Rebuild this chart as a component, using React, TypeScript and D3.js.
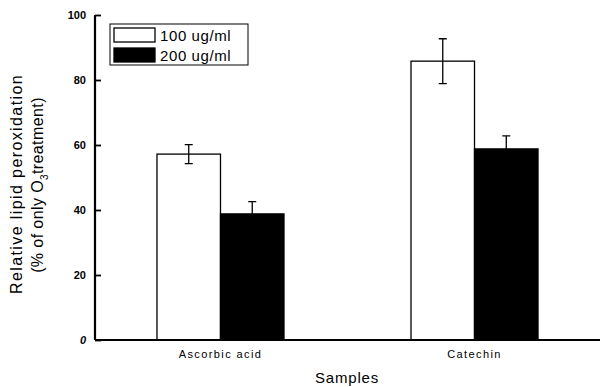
import { useEffect, useRef } from "react";
import * as d3 from "d3";

const samples = ["Ascorbic acid", "Catechin"];
const doses = ["100 ug/ml", "200 ug/ml"];
const values100 = [57.2, 85.8];
const errors100 = [2.9, 6.9];
const values200 = [38.8, 58.8];
const errors200 = [3.8, 4.0];
const yTicks = [0, 20, 40, 60, 80, 100];

const App = () => {
  const ref = useRef<SVGSVGElement | null>(null);

  useEffect(() => {
    const svg = d3.select(ref.current);
    svg.selectAll("*").remove();
    const W = 601, H = 387;
    const margin = { top: 15, right: 1, bottom: 47, left: 95 };
    const width = W - margin.left - margin.right;
    const height = H - margin.top - margin.bottom;
    const font = "Liberation Sans, Arial, sans-serif";

    const g = svg.append("g").attr("transform", `translate(${margin.left},${margin.top})`);

    const x0 = d3.scaleBand().domain(samples).range([0, width]).paddingInner(0.5).paddingOuter(0.244);
    const x1 = d3.scaleBand().domain(doses).range([0, x0.bandwidth()]);
    const y = d3.scaleLinear().domain([0, 100]).range([height, 0]);

    const rows = samples.map((s, i) => ({
      sample: s,
      bars: [
        { dose: doses[0], v: values100[i], e: errors100[i] },
        { dose: doses[1], v: values200[i], e: errors200[i] },
      ],
    }));

    const grp = g.selectAll(".grp").data(rows).enter().append("g")
      .attr("transform", d => `translate(${x0(d.sample)},0)`);

    // error bars first, black bars hide the lower half
    grp.selectAll(".err").data(d => d.bars).enter().append("path")
      .attr("d", d => {
        const cx = (x1(d.dose) as number) + x1.bandwidth() / 2;
        const t = y(d.v + d.e), b = y(d.v - d.e);
        return `M${cx - 4},${t}H${cx + 4}M${cx},${t}V${b}M${cx - 4},${b}H${cx + 4}`;
      })
      .attr("stroke", "#000").attr("stroke-width", 1.3).attr("fill", "none");

    grp.selectAll("rect").data(d => d.bars).enter().append("rect")
      .attr("x", d => x1(d.dose) as number)
      .attr("y", d => y(d.v))
      .attr("width", x1.bandwidth())
      .attr("height", d => height - y(d.v))
      .attr("fill", d => (d.dose === doses[0] ? "none" : "#000"))
      .attr("stroke", "#000").attr("stroke-width", 1.3);

    // y axis
    const ya = g.append("g").call(
      d3.axisLeft(y).tickValues(yTicks).tickSize(-6).tickPadding(9)
    );
    ya.select(".domain").attr("stroke-width", 2.2).attr("d", `M0,0V${height}`);
    ya.selectAll(".tick line").attr("stroke-width", 1.8);
    ya.selectAll(".tick text")
      .attr("font-family", font).attr("font-size", 11).attr("font-weight", "bold").attr("fill", "#000")
      .attr("font-style", d => (d === 0 ? "italic" : "normal"));

    // x axis
    const xa = g.append("g").attr("transform", `translate(0,${height})`)
      .call(d3.axisBottom(x0).tickSize(0).tickPadding(10));
    xa.select(".domain").attr("stroke-width", 2.2).attr("d", `M0,0H${width}`);
    xa.selectAll(".tick text")
      .attr("font-family", font).attr("font-size", 11).attr("letter-spacing", 1.4).attr("fill", "#000");

    svg.append("text")
      .attr("x", 347).attr("y", 383).attr("text-anchor", "middle")
      .attr("font-family", font).attr("font-size", 15).attr("letter-spacing", 0.8)
      .text("Samples");

    svg.append("text").attr("transform", "rotate(-90)")
      .attr("font-family", font).attr("font-size", 16).attr("letter-spacing", 1.4)
      .attr("text-anchor", "middle").attr("x", -184).attr("y", 22)
      .text("Relative lipid peroxidation");
    const t2 = svg.append("text").attr("transform", "rotate(-90)")
      .attr("font-family", font).attr("font-size", 16).attr("letter-spacing", 0.4)
      .attr("text-anchor", "middle").attr("x", -185).attr("y", 43);
    t2.append("tspan").text("(% of only O");
    t2.append("tspan").attr("font-size", 10).attr("dy", 5).text("3");
    t2.append("tspan").attr("dy", -5).text("treatment)");

    // legend
    const lg = svg.append("g");
    lg.append("rect").attr("x", 110).attr("y", 24).attr("width", 138).attr("height", 41)
      .attr("fill", "#fff").attr("stroke", "#000").attr("stroke-width", 1);
    doses.forEach((d, i) => {
      lg.append("rect").attr("x", 114).attr("y", 28 + i * 20).attr("width", 41).attr("height", 14)
        .attr("fill", i === 0 ? "#fff" : "#000").attr("stroke", "#000").attr("stroke-width", 1.3);
      lg.append("text").attr("x", 160).attr("y", 41 + i * 20)
        .attr("font-family", font).attr("font-size", 15).attr("letter-spacing", 0.6).text(d);
    });
  }, []);

  return <svg ref={ref} width={601} height={387} style={{ position: "absolute", left: 0, top: 0, background: "#fff" }} />;
};

export default App;
